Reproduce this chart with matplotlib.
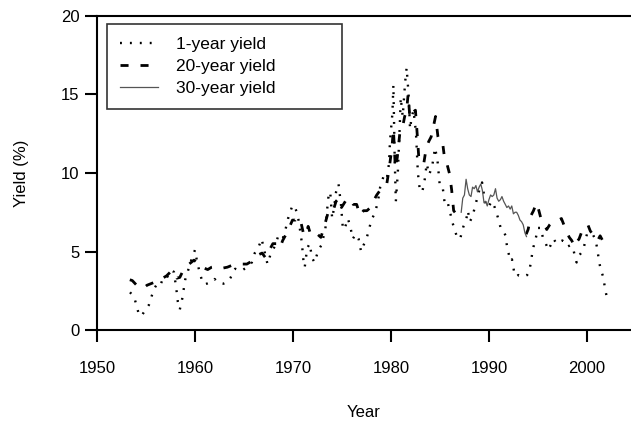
import matplotlib
matplotlib.use('Agg')
import matplotlib.pyplot as plt
import numpy as np

plt.rcParams['font.family'] = ['Liberation Sans', 'DejaVu Sans']

# 1-year yield (%)
years_1y = [
    1953.37, 1953.8, 1954.05, 1954.3, 1954.55, 1954.8, 1955.3, 1955.6, 1955.9,
    1956.2, 1956.5, 1956.8, 1957.2, 1957.6, 1957.85, 1958.1, 1958.25, 1958.45,
    1958.7, 1959.0, 1959.3, 1959.65, 1960.0, 1960.2, 1960.5, 1960.75, 1961.0,
    1961.4, 1961.8, 1962.0, 1962.4, 1962.9, 1963.3, 1963.6, 1964.1, 1964.7,
    1965.3, 1965.8, 1966.1, 1966.5, 1966.8, 1967.1, 1967.4, 1967.7, 1968.2,
    1968.45, 1968.9, 1969.2, 1969.5, 1969.9, 1970.1, 1970.4, 1970.6, 1970.9,
    1971.1, 1971.2, 1971.45, 1971.7, 1971.95, 1972.2, 1972.6, 1972.9, 1973.3,
    1973.6, 1973.8, 1974.0, 1974.2, 1974.4, 1974.65, 1974.9, 1975.1, 1975.35,
    1975.6, 1975.85, 1976.1, 1976.4, 1976.7, 1976.95, 1977.2, 1977.5, 1977.8,
    1978.0, 1978.4, 1978.7, 1978.9, 1979.3, 1979.6, 1979.8, 1979.9, 1980.15,
    1980.25, 1980.38, 1980.5, 1980.7, 1980.9, 1981.0, 1981.2, 1981.45, 1981.6,
    1981.8, 1981.95, 1982.1, 1982.3, 1982.55, 1982.75, 1982.95, 1983.2, 1983.45,
    1983.65, 1983.9, 1984.2, 1984.5, 1984.75, 1985.0, 1985.3, 1985.5, 1985.8,
    1986.0, 1986.25, 1986.5, 1986.8, 1987.1, 1987.4, 1987.7, 1987.85, 1988.05,
    1988.3, 1988.6, 1988.8, 1989.1, 1989.3, 1989.6, 1989.8, 1990.0, 1990.3,
    1990.6, 1990.9, 1991.2, 1991.5, 1991.7, 1991.85, 1992.0, 1992.2, 1992.35,
    1992.6, 1992.8, 1993.0, 1993.3, 1993.6, 1993.9, 1994.1, 1994.25, 1994.4,
    1994.55, 1994.8, 1995.0, 1995.3, 1995.5, 1995.75, 1996.05, 1996.3, 1996.6,
    1996.9, 1997.2, 1997.5, 1997.8, 1998.0, 1998.3, 1998.6, 1998.8, 1998.95,
    1999.15, 1999.4, 1999.7, 2000.0, 2000.3, 2000.6, 2000.9, 2001.1, 2001.25,
    2001.45, 2001.7, 2001.85, 2002.0, 2002.2, 2002.35,
]
yield_1y = [
    2.4, 2.1, 1.5, 0.95, 0.9, 1.15, 1.6, 2.2, 2.7,
    3.0, 2.9, 3.4, 3.4, 3.8, 3.7, 2.6, 1.8, 1.3,
    2.0, 3.2, 3.8, 4.5, 5.1, 4.4, 3.6, 3.1, 2.9,
    3.0, 3.1, 3.25, 3.0, 2.95, 3.05, 3.3, 3.9, 3.75,
    4.0, 4.3, 4.9, 5.3, 5.8, 5.0, 4.2, 4.8, 5.4,
    5.9, 5.7, 6.3, 7.1, 7.85, 7.95, 7.5, 6.9, 5.6,
    4.2, 4.0, 5.2, 5.5, 4.6, 4.3, 5.1, 5.4, 6.4,
    8.4, 8.8, 7.1, 7.8, 8.8, 9.3, 8.0, 6.4, 6.6,
    7.1, 6.6, 5.8, 6.1, 5.8, 5.0, 5.4, 5.8, 6.5,
    7.0, 7.5, 8.3, 9.1, 9.9, 9.7, 10.6, 12.0, 13.8,
    15.6, 11.0, 8.2, 10.0, 13.0, 14.8, 13.6, 15.8, 16.7,
    15.0, 12.8, 13.5, 14.0, 12.6, 10.0, 8.9, 8.8, 9.6,
    10.6, 9.9, 10.4, 11.6, 10.8, 9.1, 9.0, 8.0, 8.1,
    7.6, 6.9, 6.4, 5.8, 5.9, 6.6, 7.1, 7.6, 6.9,
    7.2, 7.9, 8.4, 9.1, 9.4, 8.2, 7.8, 7.9, 8.2,
    7.8, 7.2, 6.5, 6.3, 6.0, 5.3, 4.9, 4.4, 4.5,
    3.6, 3.4, 3.5, 3.4, 3.4, 3.5, 3.7, 4.2, 4.8,
    5.3, 5.9, 6.5, 6.5, 5.9, 5.6, 5.1, 5.4, 5.8,
    5.5, 5.6, 5.7, 5.5, 5.3, 5.4, 5.2, 4.6, 4.3,
    4.7, 4.9, 5.3, 6.1, 6.2, 6.1, 5.7, 5.0, 4.3,
    3.8, 3.3, 2.6, 2.2, 2.3, 2.5,
]

# 20-year yield (%), series not published 1987-1993
nan = float('nan')
years_20y = [
    1953.35, 1953.6, 1953.9, 1954.2, 1954.5, 1954.8, 1955.1, 1955.5, 1955.9,
    1956.3, 1956.7, 1957.1, 1957.5, 1957.85, 1958.15, 1958.45, 1958.8, 1959.2,
    1959.6, 1959.9, 1960.2, 1960.55, 1960.9, 1961.3, 1961.7, 1962.1, 1962.5,
    1962.9, 1963.3, 1963.7, 1964.1, 1964.5, 1964.9, 1965.3, 1965.7, 1966.1,
    1966.5, 1966.85, 1967.2, 1967.6, 1967.95, 1968.3, 1968.65, 1968.95, 1969.3,
    1969.6, 1969.95, 1970.25, 1970.5, 1970.8, 1971.05, 1971.3, 1971.55, 1971.85,
    1972.2, 1972.5, 1972.85, 1973.2, 1973.55, 1973.8, 1974.1, 1974.4, 1974.7,
    1974.95, 1975.25, 1975.55, 1975.85, 1976.15, 1976.5, 1976.85, 1977.2, 1977.55,
    1977.9, 1978.2, 1978.55, 1978.9, 1979.25, 1979.55, 1979.8, 1980.1, 1980.25,
    1980.45, 1980.65, 1980.9, 1981.15, 1981.4, 1981.6, 1981.75, 1981.9, 1982.1,
    1982.3, 1982.5, 1982.7, 1982.85, 1983.1, 1983.35, 1983.6, 1983.85, 1984.1,
    1984.35, 1984.55, 1984.8, 1985.05, 1985.3, 1985.5, 1985.75, 1986.0, 1986.2,
    1986.4, 1986.65, 1986.9, 1990.0,
    1993.8, 1994.0, 1994.3, 1994.55, 1994.85, 1995.1, 1995.35, 1995.6, 1995.9,
    1996.2, 1996.5, 1996.75, 1997.1, 1997.4, 1997.65, 1997.9, 1998.2, 1998.45,
    1998.75, 1998.95, 1999.2, 1999.5, 1999.8, 2000.1, 2000.35, 2000.6, 2000.85,
    2001.1, 2001.35, 2001.6, 2001.85, 2002.05, 2002.25, 2002.4,
]
yield_20y = [
    3.2, 3.15, 2.95, 2.75, 2.65, 2.7, 2.85, 2.95, 3.05,
    3.1, 3.3, 3.45, 3.7, 3.75, 3.3, 3.35, 3.8, 4.1,
    4.3, 4.45, 4.3, 4.0, 3.95, 3.85, 4.0, 4.05, 3.95,
    3.95, 4.0, 4.1, 4.2, 4.2, 4.2, 4.2, 4.35, 4.6,
    4.8, 4.9, 4.6, 5.1, 5.5, 5.5, 5.2, 5.7, 6.1,
    6.5, 7.0, 7.0, 7.2, 6.9, 6.2, 6.0, 6.6, 6.0,
    6.0, 6.1, 5.9, 6.6, 7.4, 7.3, 7.6, 8.2, 8.4,
    7.8, 8.1, 8.4, 8.3, 8.0, 8.0, 7.3, 7.6, 7.6,
    7.8, 8.2, 8.6, 8.9, 9.1, 9.2, 10.2, 11.6, 12.8,
    10.3, 11.0, 12.5, 12.8, 13.6, 14.0, 15.0, 13.8, 14.2,
    13.9, 14.0, 12.3, 10.9, 10.9, 10.6, 11.6, 12.0, 12.3,
    13.0, 13.6, 12.3, 11.8, 11.8, 10.8, 10.5, 9.9, 8.9,
    7.6, 7.4, 7.3, nan,
    6.1, 6.4, 7.3, 7.6, 8.1, 7.6, 7.0, 6.8, 6.4,
    6.7, 6.9, 7.0, 7.0, 7.1, 6.7, 6.3, 5.9, 5.7,
    5.3, 5.6, 5.8, 6.3, 6.6, 6.7, 6.3, 6.1, 5.8,
    5.7, 6.0, 5.7, 5.8, 5.8, 5.7, 5.9,
]

# 30-year yield (%), shown only where the 20-year series is missing
years_30y = [
    1987.17, 1987.33, 1987.5, 1987.67, 1987.83, 1988.0, 1988.17, 1988.33, 1988.5,
    1988.67, 1988.83, 1989.0, 1989.17, 1989.33, 1989.5, 1989.67, 1989.83, 1990.0,
    1990.17, 1990.33, 1990.5, 1990.67, 1990.83, 1991.0, 1991.17, 1991.33, 1991.5,
    1991.67, 1991.83, 1992.0, 1992.17, 1992.33, 1992.5, 1992.67, 1992.83, 1993.0,
    1993.17, 1993.33, 1993.5, 1993.67, 1993.83,
]
yield_30y = [
    7.5, 8.4, 8.6, 9.6, 9.0, 8.6, 8.5, 9.1, 9.0,
    9.2, 8.8, 9.1, 9.3, 8.9, 8.1, 8.2, 7.9, 8.3,
    8.6, 8.5, 8.6, 9.0, 8.4, 8.2, 8.3, 8.5, 8.2,
    8.0, 7.8, 7.9, 7.7, 7.9, 7.4, 7.5, 7.5, 7.3,
    7.0, 6.9, 6.7, 6.2, 5.95,
]

fig = plt.figure(figsize=(6.31, 4.22), dpi=100)
ax = fig.add_axes([97 / 631, 92 / 422, 534 / 631, 314 / 422])

ax.plot(years_1y, yield_1y, color='black', lw=1.7, linestyle=(0, (0.8, 3.4)),
        dash_capstyle='butt', label='1-year yield')
ax.plot(years_20y, yield_20y, color='black', lw=2.0, linestyle=(0, (2.9, 4.3)),
        label='20-year yield')
ax.plot(years_30y, yield_30y, color='#555555', lw=0.9, label='30-year yield')

ax.set_xlim(1950, 2004.5)
ax.set_ylim(0, 20)
ax.set_xticks(np.arange(1950, 2001, 10))
ax.set_yticks(np.arange(0, 21, 5))
ax.spines['right'].set_visible(False)
for s in ('top', 'left', 'bottom'):
    ax.spines[s].set_linewidth(1.5)
ax.tick_params(axis='both', direction='out', length=8.5, width=1.5, labelsize=12)
ax.tick_params(axis='x', pad=13.5)
ax.tick_params(axis='y', pad=4)

ax.set_xlabel('Year', fontsize=12, labelpad=21)
ax.set_ylabel('Yield (%)', fontsize=12, labelpad=23)

leg = ax.legend(loc='upper left', bbox_to_anchor=(0.0187, 0.707, 0.44, 0.2675),
                mode='expand', fontsize=12.5, frameon=True, fancybox=False,
                borderpad=0.75, labelspacing=0.4, handlelength=2.2,
                handletextpad=1.0, borderaxespad=0)
leg.get_frame().set_edgecolor('black')
leg.get_frame().set_linewidth(1.2)

fig.savefig('out.png', dpi=100)
